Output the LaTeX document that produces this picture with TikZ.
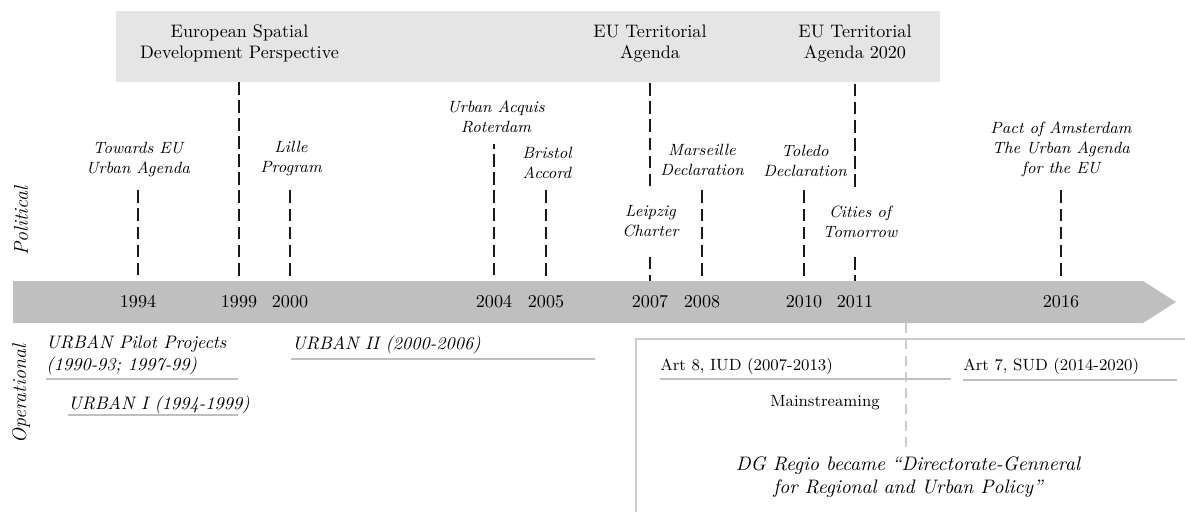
\documentclass[tikz,border=0pt]{standalone}
\pgfdeclarelayer{lines}
\pgfdeclarelayer{barlayer}
\pgfsetlayers{lines,barlayer,main}
\tikzset{
  lab/.style={font=\small\itshape, align=center, inner xsep=1pt, inner ysep=6pt, anchor=south},
  midlab/.style={font=\small\itshape, align=center, inner xsep=1pt, inner ysep=10.5pt},
  boxtext/.style={align=center, inner sep=0pt},
  yr/.style={inner sep=1pt},
  dline/.style={line width=1.2pt, black!90, dash pattern=on 7pt off 3pt},
  uline/.style={line width=1.5pt, gray!50},
  opl/.style={font=\itshape, align=left, anchor=west, inner sep=0pt},
  opr/.style={font=\small, anchor=west, inner sep=0pt},
  side/.style={rotate=90, font=\fontsize{11}{13}\selectfont\itshape},
  ghost/.style={line width=0.6pt, gray!40, dash pattern=on 5.5pt off 3.5pt},
  frame/.style={line width=0.6pt, gray!40},
}
\begin{document}
\begin{tikzpicture}[x=0.5525pt,y=-0.5525pt]
\useasboundingbox (0,0) rectangle (1185,512);
% top box
\node[fill=gray!20, minimum width=455.3pt, minimum height=39.2pt, inner sep=0pt] (topbox) at (528,46.5) {};
\node[boxtext] (esdp) at (239.5,43.5) {European Spatial\\Development Perspective};
\node[boxtext] (euta) at (650,43.5) {EU Territorial\\Agenda};
\node[boxtext] (eu2020) at (855,43.5) {EU Territorial\\Agenda 2020};
% bar
\begin{pgfonlayer}{barlayer}
\fill[gray!50] (13,281) -- (1143,281) -- (1176,302) -- (1143,323) -- (13,323) -- cycle;
\end{pgfonlayer}
% years
\node[yr] (y1994) at (138,302) {1994};
\node[yr] (y1999) at (239,302) {1999};
\node[yr] (y2000) at (290,302) {2000};
\node[yr] (y2004) at (494,302) {2004};
\node[yr] (y2005) at (546,302) {2005};
\node[yr] (y2007) at (650,302) {2007};
\node[yr] (y2008) at (702,302) {2008};
\node[yr] (y2010) at (804,302) {2010};
\node[yr] (y2011) at (855,302) {2011};
\node[yr] (y2016) at (1061,302) {2016};
% political labels
\node[lab] (towards) at (138,188) {Towards EU\\Urban Agenda};
\node[lab] (lille) at (291,187) {Lille\\Program};
\node[lab] (acquis) at (496,144) {Urban Acquis\\Roterdam};
\node[lab] (bristol) at (547,190) {Bristol\\Accord};
\node[lab] (marseille) at (702,187) {Marseille\\Declaration};
\node[lab] (toledo) at (805,188) {Toledo\\Declaration};
\node[lab] (pact) at (1061,188) {Pact of Amsterdam\\The Urban Agenda\\for the EU};
\node[midlab] (leipzig) at (650.5,221.5) {Leipzig\\Charter};
\node[midlab] (cities) at (860,222) {Cities of\\Tomorrow};
% dashed connectors
\begin{pgfonlayer}{lines}
\draw[dline] (y1994.north) -- (y1994 |- towards.south);
\draw[dline] (y1999.north) -- (y1999 |- topbox.south);
\draw[dline] (y2000.north) -- (y2000 |- lille.south);
\draw[dline] (y2004.north) -- (y2004 |- acquis.south);
\draw[dline] (y2005.north) -- (y2005 |- bristol.south);
\draw[dline] (y2007 |- leipzig.south) -- (y2007.north);
\draw[dline] (y2007 |- leipzig.north) -- (y2007 |- topbox.south);
\draw[dline] (y2008.north) -- (y2008 |- marseille.south);
\draw[dline] (y2010.north) -- (y2010 |- toledo.south);
\draw[dline] (y2011 |- cities.south) -- (y2011.north);
\draw[dline] (y2011 |- cities.north) -- (y2011 |- topbox.south);
\draw[dline] (y2016.north) -- (y2016 |- pact.south);
\end{pgfonlayer}
% side labels
\node[side] (political) at (21,221) {Political};
\node[side] (operational) at (21,394) {Operational};
% operational
\node[opl] (pilot) at (46,355) {URBAN Pilot Projects\\(1990-93; 1997-99)};
\node[opl] (urbanI) at (68,404.5) {URBAN I (1994-1999)};
\node[opl] (urbanII) at (292,344.5) {URBAN II (2000-2006)};
\draw[uline] (46,379) -- (238,379);
\draw[uline] (68,415) -- (238,415);
\draw[uline] (291,359) -- (595,359);
\draw[frame] (636,512) -- (636,339) -- (1185,339);
\node[opr] (art8) at (660,366) {Art 8, IUD (2007-2013)};
\node[opr] (art7) at (963,366) {Art 7, SUD (2014-2020)};
\draw[uline] (660,379) -- (951,379);
\draw[uline] (963,380) -- (1177,380);
\node[font=\small, inner sep=0pt] (mainstr) at (825,403) {Mainstreaming};
\node[font=\fontsize{10.8}{13}\selectfont\itshape, align=center, anchor=north, inner xsep=0pt, inner ysep=4.5pt] (dgregio) at (908,448) {DG Regio became “Directorate-Genneral\\for Regional and Urban Policy”};
\coordinate (barfoot) at (906,323);
\draw[ghost] (barfoot) -- (barfoot |- dgregio.north);
\end{tikzpicture}
\end{document}
